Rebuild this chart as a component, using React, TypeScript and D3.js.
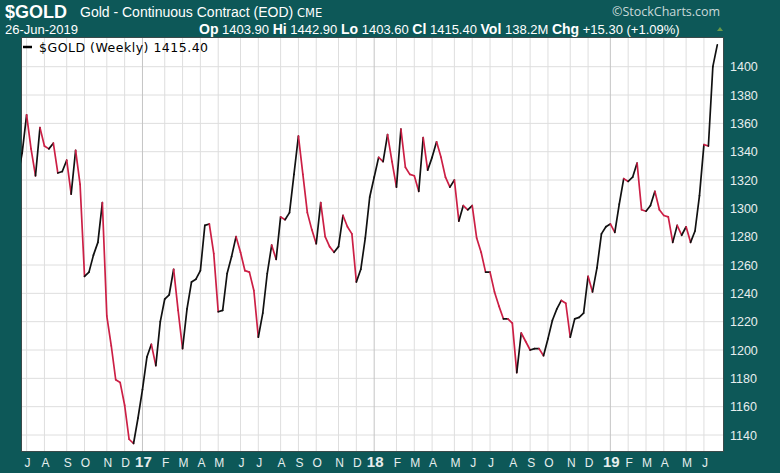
import React from "react";
import * as d3 from "d3";

const W = 780;
const H = 473;

// Weekly closes, week ending 2016-06-24 through 2019-06-28
const firstWeekEnd = [2016, 5, 24];
const lastWeekEnd = [2019, 5, 28];
const closes: number[] = [
  // 2016
  1322, 1339, 1366, 1342, 1323, 1357, 1344, 1342, 1346, 1325, 1326, 1334, 1310, 1341, 1317,
  1252, 1255, 1267, 1276, 1304, 1224, 1203, 1179, 1177, 1161, 1137, 1134, 1152,
  // 2017
  1172, 1195, 1204, 1189, 1220, 1236, 1239, 1257, 1228, 1201, 1229, 1248, 1250,
  1256, 1288, 1289, 1268, 1227, 1228, 1254, 1266, 1280, 1269, 1256, 1255, 1242,
  1209, 1226, 1254, 1274, 1264, 1294, 1292, 1297, 1324, 1351, 1324, 1297, 1285,
  1275, 1304, 1280, 1273, 1269, 1273, 1295, 1287, 1282, 1248, 1257, 1279, 1308,
  // 2018
  1322, 1336, 1333, 1352, 1333, 1315, 1356, 1329, 1324, 1323, 1312, 1350, 1327,
  1336, 1347, 1336, 1322, 1315, 1320, 1291, 1302, 1299, 1302, 1279, 1269, 1255,
  1255, 1241, 1231, 1222, 1222, 1219, 1184, 1212, 1206, 1200, 1201, 1201, 1196,
  1208, 1221, 1229, 1235, 1233, 1209, 1222, 1223, 1226, 1252, 1241, 1258, 1282,
  // 2019
  1287, 1289, 1283, 1303, 1321, 1319, 1322, 1332, 1299, 1298, 1302, 1312, 1299,
  1295, 1294, 1276, 1288, 1281, 1287, 1276, 1284, 1309, 1345, 1344, 1400, 1415.4,
];

const yTicks = [1140, 1160, 1180, 1200, 1220, 1240, 1260, 1280, 1300, 1320, 1340, 1360, 1380, 1400];
const monthLetters = ["J", "F", "M", "A", "M", "J", "J", "A", "S", "O", "N", "D"];
const headerFields: [string, string][] = [
  ["Op", "1403.90"],
  ["Hi", "1442.90"],
  ["Lo", "1403.60"],
  ["Cl", "1415.40"],
  ["Vol", "138.2M"],
  ["Chg", "+15.30 (+1.09%)"],
];
const symbol = "$GOLD";
const title = "Gold - Continuous Contract (EOD)";
const exchange = "CME";
const dateLabel = "26-Jun-2019";
const legendLabel = "$GOLD (Weekly) 1415.40";
const credit = "\u00A9StockCharts.com";

const BG = "#0d5858";
const UP = "#111111";
const DOWN = "#cc1f45";

export default function App() {
  const plot = { left: 21, right: 724, top: 37, bottom: 452 };

  const weeks = d3.utcFriday.range(
    new Date(Date.UTC(firstWeekEnd[0], firstWeekEnd[1], firstWeekEnd[2])),
    new Date(Date.UTC(lastWeekEnd[0], lastWeekEnd[1], lastWeekEnd[2] + 1))
  );
  const data = closes.map((v, i) => ({ date: weeks[i], value: v }));

  const x = d3.scaleUtc().domain([weeks[2], weeks[weeks.length - 1]]).range([26.6, 717.3]);
  const y = d3.scaleLinear().domain([1140, 1400]).range([435, 66.7]);

  const months = d3.utcMonth.range(new Date(Date.UTC(2016, 6, 1)), new Date(Date.UTC(2019, 6, 1)));
  const monthMarks = months.map((m) => {
    const mon = d3.utcMonday.ceil(m);
    const fri = d3.utcDay.offset(mon, 4);
    return { m, xp: x(fri) };
  });

  const line = d3
    .line<{ date: Date; value: number }>()
    .x((d) => x(d.date))
    .y((d) => y(d.value));

  const segs = data.slice(1).map((d, i) => {
    const p = data[i];
    return { path: line([p, d]) as string, up: d.value >= p.value };
  });

  return (
    <svg
      width={W}
      height={H}
      style={{ position: "fixed", left: 0, top: 0, display: "block" }}
      fontFamily="'Liberation Sans', Arial, sans-serif"
    >
      <defs>
        <clipPath id="plotClip">
          <rect x={plot.left} y={plot.top} width={plot.right - plot.left} height={plot.bottom - plot.top} />
        </clipPath>
      </defs>
      <rect x={0} y={0} width={W} height={H} fill={BG} />

      {/* header */}
      <text x={5} y={18} fill="#ffffff" fontSize={18} fontWeight="bold">{symbol}</text>
      <text x={80} y={17} fill="#ffffff" fontSize={14}>
        {title} <tspan fontSize={11.5} fontFamily="'DejaVu Sans', Verdana, sans-serif">{exchange}</tspan>
      </text>
      <text x={612} y={16} fill="#c9d9d9" fontSize={12.5} fontFamily="'Open Sans', 'DejaVu Sans', sans-serif">{credit}</text>
      <text x={5} y={33.5} fill="#ffffff" fontSize={13}>{dateLabel}</text>
      <text x={199} y={33.5} fill="#ffffff" fontSize={13}>
        {headerFields.map(([k, v], i) => (
          <tspan key={k}>
            {i > 0 ? "  " : ""}
            <tspan fontWeight="bold" fontSize={14}>{k}</tspan> {v}
          </tspan>
        ))}
      </text>
      <path d="M717,31 l3,-4 l3,4 z" fill="#6a9a4a" />

      {/* plot area */}
      <rect x={plot.left} y={plot.top} width={plot.right - plot.left} height={plot.bottom - plot.top} fill="#ffffff" />
      {yTicks.map((t) => (
        <line key={t} x1={plot.left} x2={plot.right} y1={y(t)} y2={y(t)} stroke="#dedede" strokeWidth={1} />
      ))}
      {monthMarks.map(({ m, xp }) => (
        <line
          key={+m}
          x1={xp}
          x2={xp}
          y1={plot.top}
          y2={plot.bottom}
          stroke={m.getUTCMonth() === 0 ? "#c4c4c4" : "#dedede"}
          strokeWidth={1}
        />
      ))}
      <rect
        x={plot.left + 0.5}
        y={plot.top + 0.5}
        width={plot.right - plot.left - 1}
        height={plot.bottom - plot.top - 1}
        fill="none"
        stroke="#3a4a4a"
        strokeWidth={1}
      />

      {/* legend */}
      <line x1={23} x2={32} y1={47} y2={47} stroke="#000" strokeWidth={2.5} />
      <text
        x={39}
        y={51.5}
        fontSize={12.5}
        letterSpacing={0.5}
        fill="#000"
        fontFamily="'DejaVu Sans', Verdana, sans-serif"
      >
        {legendLabel}
      </text>

      {/* price line */}
      <g clipPath="url(#plotClip)" fill="none" strokeWidth={1.7} strokeLinejoin="round" strokeLinecap="round">
        {segs.map((s, i) => (
          <path key={i} d={s.path} stroke={s.up ? UP : DOWN} />
        ))}
      </g>

      {/* y axis labels */}
      {yTicks.map((t) => (
        <text key={t} x={730} y={y(t)} dy="0.36em" fontSize={12.5} fill="#e6eeee">
          {t}
        </text>
      ))}

      {/* x axis labels */}
      {monthMarks.map(({ m, xp }) => {
        const isYear = m.getUTCMonth() === 0;
        return (
          <text
            key={+m}
            x={xp + 1}
            y={467}
            textAnchor="middle"
            fontSize={isYear ? 15 : 12}
            fontWeight={isYear ? "bold" : "normal"}
            fill="#e6eeee"
          >
            {isYear ? d3.utcFormat("%y")(m) : monthLetters[m.getUTCMonth()]}
          </text>
        );
      })}
    </svg>
  );
}
